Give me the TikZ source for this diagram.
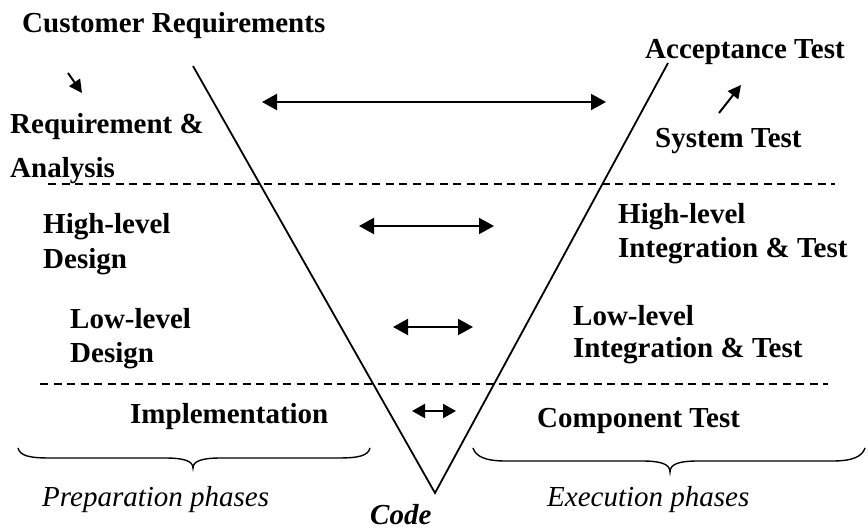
\documentclass[tikz,border=0pt]{standalone}
\usepackage{fontspec}
\setmainfont{Liberation Serif}
\usetikzlibrary{arrows.meta}
\begin{document}
\begin{tikzpicture}[x=1pt,y=-1pt,
  lbl/.style={anchor=base west,inner sep=0pt,font=\fontsize{29}{34}\selectfont\bfseries},
  ital/.style={anchor=base west,inner sep=0pt,font=\fontsize{29}{34}\selectfont\itshape},
  vline/.style={line width=1.8pt},
  sep/.style={line width=1.3pt,dash pattern=on 8pt off 5.5pt},
  dbl/.style={line width=2.2pt,{Triangle[length=15pt,width=16pt]}-{Triangle[length=15pt,width=16pt]}},
  dblsmall/.style={line width=2.2pt,{Triangle[length=13pt,width=14pt]}-{Triangle[length=13pt,width=14pt]}},
  sarrow/.style={line width=2pt,-{Triangle[length=13pt,width=13pt]}},
  brace/.style={line width=1.4pt}]
\useasboundingbox (0,0) rectangle (868,530);
% V shape
\coordinate (vl) at (193,66);
\coordinate (vb) at (435,493);
\coordinate (vr) at (668,63);
\draw[vline] (vl) -- (vb) -- (vr);
% dashed separators
\coordinate (d1a) at (48,184);
\coordinate (d1b) at (835,184);
\coordinate (d2a) at (40,384);
\coordinate (d2b) at (828,384);
\draw[sep] (d1a) -- (d1b);
\draw[sep] (d2a) -- (d2b);
% labels
\node[lbl] (cr) at (22,32) {Customer Requirements};
\node[lbl] (ra1) at (10,133) {Requirement \&};
\node[lbl] (ra2) at (10,177) {Analysis};
\node[lbl] (at) at (645,58) {Acceptance Test};
\node[lbl] (st) at (655,147) {System Test};
\node[lbl] (hd1) at (43,233) {High-level};
\node[lbl] (hd2) at (43,268) {Design};
\node[lbl] (hi1) at (618,223) {High-level};
\node[lbl] (hi2) at (618,257) {Integration \& Test};
\node[lbl] (ld1) at (70,328) {Low-level};
\node[lbl] (ld2) at (70,362) {Design};
\node[lbl] (li1) at (573,325) {Low-level};
\node[lbl] (li2) at (573,357) {Integration \& Test};
\node[lbl] (im) at (130,423) {Implementation};
\node[lbl] (ct) at (537,427) {Component Test};
\node[ital] (pp) at (42,506) {Preparation phases};
\node[ital] (ep) at (547,506) {Execution phases};
\node[anchor=base west,inner sep=0pt,font=\fontsize{29}{34}\selectfont\bfseries\itshape] (code) at (370,524) {Code};
% small arrows
\coordinate (s1a) at (68,73);
\coordinate (s1b) at (82,93);
\draw[sarrow] (s1a) -- (s1b);
\coordinate (s2a) at (719,113);
\coordinate (s2b) at (741,85);
\draw[sarrow] (s2a) -- (s2b);
% double arrows
\coordinate (a1l) at (262,102);
\coordinate (a1r) at (606,102);
\draw[dbl] (a1l) -- (a1r);
\coordinate (a2l) at (359,226);
\coordinate (a2r) at (494,226);
\draw[dbl] (a2l) -- (a2r);
\coordinate (a3l) at (393,327);
\coordinate (a3r) at (473,327);
\draw[dbl] (a3l) -- (a3r);
\coordinate (a4l) at (412,411);
\coordinate (a4r) at (456,411);
\draw[dblsmall] (a4l) -- (a4r);
% braces
\draw[brace] (18,448) .. controls (20,456) and (30,458) .. (50,458) -- (165,458)
  .. controls (184,458) and (193,461) .. (193,468)
  .. controls (193,461) and (202,458) .. (221,458) -- (338,458)
  .. controls (358,458) and (368,456) .. (370,448);
\draw[brace] (473,448) .. controls (476,457) and (486,461) .. (506,461) -- (642,461)
  .. controls (661,461) and (670,464) .. (670,472)
  .. controls (670,464) and (679,461) .. (698,461) -- (832,461)
  .. controls (852,461) and (862,457) .. (865,448);
\end{tikzpicture}
\end{document}
